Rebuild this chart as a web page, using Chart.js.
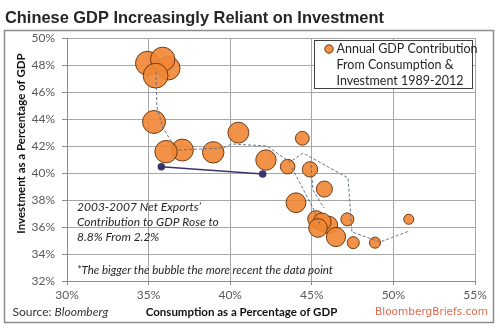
<!DOCTYPE html>
<html>
<head>
<meta charset="utf-8">
<script src="https://cdn.jsdelivr.net/npm/chart.js@4/dist/chart.umd.min.js"></script>
<style>
  html, body { margin: 0; padding: 0; background: #fff; }
  #wrap { position: relative; width: 500px; height: 329px; }
  canvas { display: block; }
</style>
</head>
<body>
<div id="wrap"><canvas id="c" width="500" height="329"></canvas></div>
<script>
// ---- Data ----
const years = [1989, 1990, 1991, 1992, 1993, 1994, 1995, 1996, 1997, 1998, 1999, 2000,
               2001, 2002, 2003, 2004, 2005, 2006, 2007, 2008, 2009, 2010, 2011, 2012];
// Consumption as % of GDP (x)
const consumption = [50.94, 48.87, 47.54, 47.18, 44.42, 43.52, 44.89, 45.77, 45.26, 46.05, 45.63, 45.38,
                     46.48, 44.03, 42.19, 40.50, 38.96, 37.07, 36.07, 35.33, 36.21, 34.93, 35.86, 35.43];
// Investment as % of GDP (y)
const investment  = [36.57, 34.84, 34.84, 36.57, 42.57, 40.47, 40.27, 38.81, 36.59, 36.15, 36.37, 35.93,
                     35.26, 37.80, 40.96, 42.99, 41.53, 41.70, 41.58, 43.78, 47.76, 48.13, 48.42, 47.21];

// Dashed connector
const pathX  = [35.45, 35.51, 35.88, 36.74, 39.56, 40.11, 42.25, 43.66, 44.46, 47.22, 47.46, 49.18, 50.96];
const pathY  = [47.48, 44.89, 43.33, 41.70, 41.85, 42.15, 42.00, 40.81, 41.48, 39.63, 35.63, 34.89, 35.70];
const path2X = [43.79, 45.07, 45.50];
const path2Y = [40.37, 37.41, 36.15];
const path3X = [44.95, 45.07, 45.75];
const path3Y = [40.59, 38.74, 37.41];

// 2003-2007 net exports marker line
const exportsX = [35.78, 41.99];
const exportsY = [40.47, 39.93];

const xTickLabels = ['30%', '35%', '40%', '45%', '50%', '55%'];
const yTickLabels = ['32%', '34%', '36%', '38%', '40%', '42%', '44%', '46%', '48%', '50%'];

const titleText = 'Chinese GDP Increasingly Reliant on Investment';
const yTitle = 'Investment as a Percentage of GDP';
const xTitle = 'Consumption as a Percentage of GDP';
const legendLines = ['Annual GDP Contribution', 'From Consumption &', 'Investment 1989-2012'];
const noteLines = ['2003-2007 Net Exports\u2019', 'Contribution to GDP Rose to', '8.8% From 2.2%'];
const footNote = '*The bigger the bubble the more recent the data point';

// ---- Build datasets ----
const bubbleR = y => Math.sqrt(5.6 * (y - 1984.5));
const bubbles = years.map((yr, i) => ({ x: consumption[i], y: investment[i], r: bubbleR(yr) }));
const toPts = (xs, ys) => xs.map((v, i) => ({ x: v, y: ys[i] }));

const FILL = 'rgba(241,134,52,0.9)';
const EDGE = 'rgba(105,52,14,0.95)';
const DASH = 'rgba(95,110,135,0.95)';

const decor = {
  id: 'decor',
  beforeDraw(chart) {
    const ctx = chart.ctx;
    ctx.save();
    ctx.fillStyle = '#fff';
    ctx.fillRect(0, 0, chart.width, chart.height);
    ctx.strokeStyle = '#8c8c8c';
    ctx.lineWidth = 1.5;
    ctx.strokeRect(4.5, 30.5, 489, 292);
    ctx.restore();
  },
  afterDraw(chart) {
    const ctx = chart.ctx;
    ctx.save();
    // Title
    ctx.fillStyle = '#262626';
    ctx.font = 'bold 16.4px "Liberation Sans", Arial, sans-serif';
    ctx.textBaseline = 'alphabetic';
    ctx.textAlign = 'left';
    ctx.fillText(titleText, 5, 22.5);

    // Axis titles
    ctx.fillStyle = '#111';
    ctx.font = 'bold 11.5px Lato, sans-serif';
    ctx.textAlign = 'center';
    ctx.textBaseline = 'middle';
    ctx.fillText(xTitle, 241.5, 312.5);
    ctx.save();
    ctx.translate(21, 143.5);
    ctx.rotate(-Math.PI / 2);
    ctx.fillText(yTitle, 0, 0);
    ctx.restore();

    // Source
    ctx.textAlign = 'left';
    ctx.fillStyle = '#333';
    ctx.font = '12px Lato, sans-serif';
    const src = 'Source: ';
    ctx.fillText(src, 12.5, 312.5);
    const w = ctx.measureText(src).width;
    ctx.font = 'italic 12px Lato, sans-serif';
    ctx.fillText('Bloomberg', 12.5 + w, 312.5);

    // BloombergBriefs.com
    ctx.textAlign = 'right';
    ctx.fillStyle = 'rgb(226,104,74)';
    ctx.font = '10.5px "DejaVu Sans", sans-serif';
    ctx.fillText('BloombergBriefs.com', 488, 312.5);

    // Legend box
    ctx.fillStyle = '#fff';
    ctx.fillRect(314.5, 40.5, 158, 48);
    ctx.strokeStyle = '#404040';
    ctx.lineWidth = 1;
    ctx.strokeRect(314.5, 40.5, 158, 48);
    ctx.beginPath();
    ctx.arc(329, 49, 4.2, 0, Math.PI * 2);
    ctx.fillStyle = FILL;
    ctx.fill();
    ctx.strokeStyle = EDGE;
    ctx.stroke();
    ctx.fillStyle = '#262626';
    ctx.font = '12.5px Lato, sans-serif';
    ctx.textAlign = 'left';
    ctx.textBaseline = 'middle';
    legendLines.forEach((t, i) => ctx.fillText(t, 336.5, 49 + i * 15.8));

    // Notes
    ctx.fillStyle = '#262626';
    ctx.font = 'italic 12px Lato, sans-serif';
    noteLines.forEach((t, i) => ctx.fillText(t, 77, 207 + i * 15));
    ctx.font = 'italic 11.5px Lato, sans-serif';
    ctx.fillText(footNote, 77, 270);
    ctx.restore();
  }
};

new Chart(document.getElementById('c'), {
  type: 'bubble',
  data: {
    datasets: [
      { type: 'scatter', data: toPts(pathX, pathY), showLine: true, borderColor: DASH,
        borderWidth: 1, borderDash: [3, 2], pointRadius: 0, fill: false, order: 0 },
      { type: 'scatter', data: toPts(path2X, path2Y), showLine: true, borderColor: DASH,
        borderWidth: 1, borderDash: [3, 2], pointRadius: 0, fill: false, order: 0 },
      { type: 'scatter', data: toPts(path3X, path3Y), showLine: true, borderColor: DASH,
        borderWidth: 1, borderDash: [3, 2], pointRadius: 0, fill: false, order: 0 },
      { type: 'scatter', data: toPts(exportsX, exportsY), showLine: true, borderColor: '#3b3470',
        borderWidth: 1.5, pointRadius: 3, pointBackgroundColor: '#3b3470',
        pointBorderColor: '#3b3470', fill: false, order: 1 },
      { type: 'bubble', data: bubbles, backgroundColor: FILL, borderColor: EDGE,
        borderWidth: 1, order: 2 }
    ]
  },
  options: {
    responsive: false,
    animation: false,
    events: [],
    layout: { padding: { left: 0, top: 38, right: 25, bottom: 0 } },
    plugins: { legend: { display: false }, tooltip: { enabled: false }, title: { display: false } },
    scales: {
      x: {
        type: 'linear', min: 30, max: 55,
        afterFit(s) { s.height = 48; },
        ticks: {
          stepSize: 5, padding: 3, color: '#595959',
          font: { family: 'Lato', size: 12 },
          callback: (v) => xTickLabels[Math.round((v - 30) / 5)]
        },
        grid: { color: '#a6a6a6', lineWidth: 1, borderDash: [4, 3], tickLength: 4,
                tickBorderDash: [] , tickColor: '#8c8c8c' },
        border: { display: true, color: '#8c8c8c', width: 1 }
      },
      y: {
        type: 'linear', min: 32, max: 50,
        afterFit(s) { s.width = 67; },
        ticks: {
          stepSize: 2, padding: 7, color: '#595959',
          font: { family: 'Lato', size: 12 },
          callback: (v) => yTickLabels[Math.round((v - 32) / 2)]
        },
        grid: { color: '#a6a6a6', lineWidth: 1, borderDash: [4, 3], tickLength: 5,
                tickBorderDash: [], tickColor: '#8c8c8c' },
        border: { display: true, color: '#8c8c8c', width: 1 }
      }
    }
  },
  plugins: [decor]
});
</script>
</body>
</html>
